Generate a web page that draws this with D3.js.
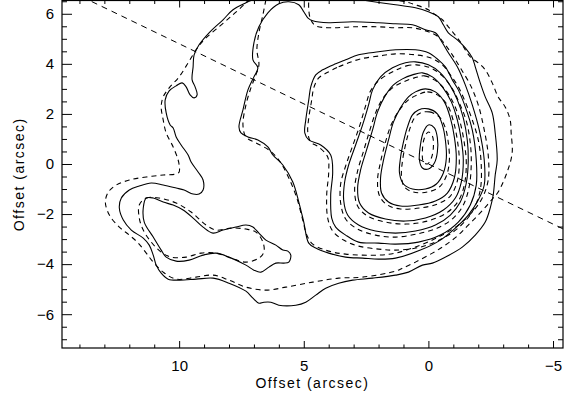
<!DOCTYPE html>
<html>
<head>
<meta charset="utf-8">
<script src="https://cdn.jsdelivr.net/npm/d3@7/dist/d3.min.js"></script>
<style>
body { margin: 0; background: #fff; }
svg { display: block; }
.axis text { font-family: "Liberation Sans", Arial, sans-serif; font-size: 15px; fill: #000; }
.axis line { stroke: #000; stroke-width: 1; }
.title { font-family: "Liberation Sans", Arial, sans-serif; font-size: 14px; letter-spacing: 1.5px; fill: #000; }
</style>
</head>
<body>
<svg id="chart" width="564" height="400"></svg>
<script>
// offsets in arcsec (x grows to the left)
var xMajorTicks = [10, 5, 0, -5];
var xMinorTicks = [14, 13, 12, 11, 9, 8, 7, 6, 4, 3, 2, 1, -1, -2, -3, -4];
var yMajorTicks = [-6, -4, -2, 0, 2, 4, 6];
var yMinorTicks = [-7, -6.5, -5.5, -5, -4.5, -3.5, -3, -2.5, -1.5, -1, -0.5,
                   0.5, 1, 1.5, 2.5, 3, 3.5, 4.5, 5, 5.5, 6.5];

// position angle cut
var cutLine = [[14.7, 7.06], [-5.5, -2.64]];

// lowest level, open at the top edge
var lev1Solid = [[2.72,6.56],[1.92,6.44],[1.32,6.36],[0.52,6.24],[0,6.08],[-0.4,5.88],[-0.6,5.56],
    [-0.8,5.24],[-1.16,4.96],[-1.48,4.64],[-1.76,4.24],[-1.88,3.88],[-2.08,3.24],[-2.28,2.68],
    [-2.56,2.04],[-2.68,1.24],[-2.76,0.16],[-2.68,-0.44],[-2.6,-1.24],[-2.48,-1.76],[-2.28,-2.32],
    [-1.88,-2.84],[-1.36,-3.32],[-0.68,-3.72],[-0.16,-3.96],[0.24,-4.04],[0.8,-4.32],[1.32,-4.44],
    [2.24,-4.56],[3.04,-4.64],[3.6,-4.76],[4.12,-4.96],[4.52,-5.24],[4.92,-5.52],[5.32,-5.64],
    [6.0,-5.64],[6.32,-5.52],[6.6,-5.52],[6.8,-5.56],[7.04,-5.36],[7.32,-5.08],[8.0,-4.76],
    [8.64,-4.56],[9.32,-4.6],[10.0,-4.64],[10.44,-4.6],[10.72,-4.36],[10.92,-4.04],[11.04,-3.64],
    [11.2,-3.24],[11.44,-2.96],[11.92,-2.64],[12.24,-2.24],[12.4,-1.76],[12.32,-1.36],[12.0,-1.04],
    [11.6,-0.88],[11.12,-0.76],[10.64,-0.84],[10.12,-0.96],[9.8,-1.04],[9.44,-1.2],[9.2,-1.2],
    [9.04,-1.04],[9.04,-0.64],[9.24,-0.32],[9.52,0.08],[9.64,0.36],[9.92,0.76],[10.12,1.08],
    [10.24,1.44],[10.36,1.56],[10.52,2.04],[10.56,2.56],[10.4,2.92],[10.12,3.12],[9.88,3.24],
    [9.72,3.08],[9.56,2.76],[9.4,2.64],[9.28,2.76],[9.36,3.08],[9.48,3.36],[9.44,3.88],[9.4,4.36],
    [9.2,4.76],[8.8,5.24],[8.24,5.76],[7.84,6.16],[7.32,6.44],[7.04,6.56]];
var lev1Dashed = [[1.52,6.56],[0.92,6.48],[0.52,6.36],[0,6.16],[-0.28,5.96],[-0.56,5.76],[-0.8,5.48],
    [-1.0,5.24],[-1.28,4.88],[-1.48,4.56],[-1.68,4.28],[-2.0,4.04],[-2.28,3.76],[-2.56,3.24],
    [-2.8,2.68],[-3.08,2.28],[-3.28,1.76],[-3.32,1.24],[-3.36,0.44],[-3.16,-0.32],[-2.8,-1.12],
    [-2.6,-1.36],[-2.36,-1.64],[-2.0,-2.04],[-1.6,-2.44],[-1.2,-2.84],[-0.68,-3.24],[-0.16,-3.56],
    [0.52,-3.92],[1.04,-4.16],[1.32,-4.28],[2.64,-4.52],[3.6,-4.56],[4.64,-4.72],[5.72,-4.92],
    [6.52,-5.04],[7.32,-4.92],[8.0,-4.64],[8.64,-4.44],[9.32,-4.52],[10.12,-4.6],[10.64,-4.32],
    [11.04,-3.92],[11.32,-3.56],[11.64,-3.16],[12.0,-2.84],[12.4,-2.52],[12.8,-2.04],[12.96,-1.52],
    [12.84,-1.12],[12.52,-0.84],[12.0,-0.64],[11.32,-0.52],[10.64,-0.44],[10.12,-0.4],[10.0,-0.32],
    [10.0,-0.04],[10.04,0.16],[10.24,0.68],[10.52,1.24],[10.64,1.76],[10.72,2.28],[10.64,2.68],
    [10.4,3.04],[10.0,3.48],[9.64,4.04],[9.32,4.56],[9.0,4.96],[8.4,5.48],[7.84,5.96],[7.4,6.36],
    [7.2,6.56]];

var lev2Solid = [[6.0,6.4],[5.6,6.48],[5.2,6.36],[5.0,6.08],[4.84,5.84],[4.64,5.72],[4.0,5.64],
    [3.04,5.68],[2.0,5.64],[1.32,5.6],[0.64,5.56],[0.12,5.36],[-0.28,5.24],[-0.56,4.84],[-0.8,4.44],
    [-1.16,3.88],[-1.48,3.16],[-1.76,2.36],[-2.04,1.36],[-2.24,0.16],[-2.24,-0.84],[-2.0,-1.44],
    [-1.6,-2.04],[-1.08,-2.56],[-0.48,-3.04],[0.32,-3.44],[1.32,-3.76],[2.0,-3.8],[2.64,-3.76],
    [3.32,-3.72],[4.0,-3.56],[4.52,-3.36],[4.8,-3.16],[5.0,-2.32],[5.2,-1.52],[5.44,-0.72],
    [5.84,-0.04],[6.24,0.36],[6.44,0.68],[6.84,0.96],[7.24,1.08],[7.52,1.24],[7.6,1.48],[7.44,2.16],
    [7.24,2.96],[7.0,3.48],[6.84,3.84],[7.04,4.16],[7.0,4.84],[6.8,5.48],[6.44,6.04]];
var lev2Dashed = [[6.52,6.56],[6.64,5.96],[6.8,5.24],[6.88,4.56],[6.8,3.96],[6.92,3.56],[7.12,3.04],
    [7.32,2.36],[7.44,1.56],[7.32,1.08],[6.92,0.84],[6.4,0.56],[6.0,0.16],[5.6,-0.56],[5.28,-1.36],
    [5.04,-2.24],[4.88,-2.84],[4.64,-3.2],[4.0,-3.48],[3.32,-3.6],[2.0,-3.64],[1.32,-3.56],
    [0.32,-3.24],[-0.48,-2.88],[-1.2,-2.44],[-1.76,-1.92],[-2.16,-1.36],[-2.4,-0.64],[-2.4,0.36],
    [-2.24,1.36],[-2.0,2.36],[-1.68,3.16],[-1.28,3.84],[-0.96,4.36],[-0.68,4.76],[-0.4,5.08],
    [0,5.28],[0.64,5.44],[1.32,5.44],[2.0,5.48],[3.04,5.48],[3.92,5.44],[4.52,5.52],[4.72,5.76],
    [4.8,6.16],[4.8,6.56]];

// separate loop in the south-east
var loopSolid = [[11.32,-1.36],[11.04,-1.36],[10.64,-1.52],[10.24,-1.64],[9.84,-1.84],[9.44,-2.16],
    [9.04,-2.52],[8.64,-2.76],[8.24,-2.64],[7.72,-2.52],[7.32,-2.44],[7.04,-2.52],[6.8,-2.76],
    [6.52,-3.04],[6.12,-3.24],[5.84,-3.44],[5.64,-3.48],[5.52,-3.64],[5.6,-3.92],[5.8,-3.96],
    [6.12,-3.96],[6.4,-4.12],[6.72,-4.32],[7.0,-4.24],[7.32,-4.04],[8.0,-3.72],[8.52,-3.56],
    [9.04,-3.64],[9.6,-3.84],[10.12,-3.88],[10.52,-3.72],[10.72,-3.44],[11.04,-2.92],[11.4,-2.32],
    [11.44,-1.76]];
var loopDashed = [[11.6,-1.64],[11.32,-1.36],[10.8,-1.36],[10.12,-1.56],[9.52,-1.92],[8.92,-2.44],
    [8.52,-2.64],[7.92,-2.56],[7.32,-2.6],[6.92,-2.72],[6.64,-3.12],[6.6,-3.52],[6.8,-3.76],
    [7.32,-3.92],[7.92,-3.76],[8.52,-3.56],[9.12,-3.56],[9.72,-3.72],[10.32,-3.72],[10.72,-3.52],
    [11.12,-3.12],[11.44,-2.64],[11.6,-2.16]];

// nested levels round the peak
var lev3Solid = [[4.24,3.76],[3.72,4.0],[3.32,4.16],[2.8,4.36],[2.0,4.48],[1.32,4.56],[0.52,4.56],
    [0,4.44],[-0.4,4.16],[-0.68,3.88],[-0.96,3.36],[-1.2,2.96],[-1.48,2.28],[-1.76,1.36],
    [-1.92,0.16],[-1.92,-0.84],[-1.68,-1.64],[-1.2,-2.32],[-0.48,-2.84],[0.4,-3.12],[1.32,-3.2],
    [2.0,-3.16],[2.8,-3.12],[3.32,-2.84],[3.72,-2.52],[3.88,-2.16],[3.92,-1.24],[3.84,-0.32],
    [3.92,0.36],[4.32,0.76],[4.8,0.96],[4.96,1.24],[4.92,1.76],[4.8,2.56],[4.72,3.08],[4.52,3.56]];
var lev3Dashed = [[4.08,3.64],[3.6,3.88],[3.2,4.04],[2.72,4.2],[1.92,4.32],[1.32,4.4],[0.52,4.36],
    [-0.08,4.24],[-0.56,3.96],[-0.88,3.56],[-1.2,3.08],[-1.48,2.48],[-1.76,1.76],[-2.0,0.96],
    [-2.12,-0.04],[-2.08,-1.04],[-1.8,-1.84],[-1.28,-2.48],[-0.6,-2.96],[0.32,-3.32],[1.32,-3.44],
    [2.0,-3.4],[2.8,-3.28],[3.4,-3.04],[3.84,-2.68],[4.04,-2.16],[4.08,-1.24],[4.0,-0.32],
    [4.04,0.28],[4.4,0.68],[4.72,0.88],[4.84,1.28],[4.8,1.84],[4.68,2.56],[4.6,3.04],[4.4,3.44]];
var lev4Solid = [[1.44,3.84],[0.92,4.04],[0.52,4.08],[0,3.96],[-0.48,3.64],[-0.88,3.12],[-1.16,2.56],
    [-1.4,1.84],[-1.56,0.96],[-1.6,0.16],[-1.52,-0.76],[-1.28,-1.52],[-0.88,-2.04],[-0.28,-2.44],
    [0.52,-2.68],[1.32,-2.76],[2.12,-2.68],[2.8,-2.44],[3.24,-2.04],[3.4,-1.44],[3.36,-0.72],
    [3.2,-0.04],[2.92,0.76],[2.64,1.56],[2.4,2.36],[2.24,2.96],[1.92,3.48]];
var lev4Dashed = [[1.36,3.72],[0.88,3.92],[0.48,3.96],[-0.08,3.84],[-0.56,3.52],[-0.96,3.0],
    [-1.24,2.44],[-1.52,1.72],[-1.68,0.84],[-1.72,0.04],[-1.64,-0.88],[-1.4,-1.64],[-1.0,-2.16],
    [-0.36,-2.56],[0.48,-2.8],[1.32,-2.92],[2.12,-2.84],[2.84,-2.6],[3.32,-2.2],[3.52,-1.56],
    [3.52,-0.8],[3.32,-0.08],[3.04,0.72],[2.76,1.52],[2.52,2.32],[2.32,2.92],[1.96,3.36]];
var lev5Solid = [[0.64,3.56],[0.24,3.64],[-0.16,3.48],[-0.56,3.08],[-0.92,2.48],[-1.16,1.76],
    [-1.32,0.96],[-1.4,0.16],[-1.32,-0.72],[-1.08,-1.36],[-0.6,-1.84],[0.12,-2.16],[0.92,-2.28],
    [1.72,-2.2],[2.4,-1.96],[2.76,-1.56],[2.84,-0.96],[2.72,-0.24],[2.48,0.56],[2.24,1.36],
    [2.04,2.08],[1.76,2.68],[1.4,3.16],[1.04,3.4]];
var lev5Dashed = [[0.56,3.44],[0.16,3.52],[-0.24,3.36],[-0.68,2.96],[-1.04,2.36],[-1.28,1.64],
    [-1.44,0.84],[-1.52,0.04],[-1.44,-0.84],[-1.2,-1.48],[-0.72,-1.96],[0.04,-2.28],[0.88,-2.4],
    [1.72,-2.32],[2.44,-2.08],[2.84,-1.68],[2.96,-1.04],[2.84,-0.28],[2.6,0.52],[2.36,1.32],
    [2.12,2.04],[1.84,2.6],[1.44,3.04],[1.0,3.28]];
var lev6Solid = [[0.52,2.88],[0.12,3.0],[-0.28,2.88],[-0.64,2.48],[-0.88,1.84],[-1.04,1.08],
    [-1.12,0.24],[-1.04,-0.56],[-0.76,-1.16],[-0.28,-1.48],[0.4,-1.64],[1.12,-1.68],[1.6,-1.52],
    [1.88,-1.16],[1.92,-0.56],[1.8,0.16],[1.6,0.96],[1.4,1.68],[1.12,2.24],[0.8,2.68]];
var lev6Dashed = [[0.44,2.76],[0.04,2.88],[-0.36,2.76],[-0.76,2.36],[-1.0,1.72],[-1.16,0.96],
    [-1.24,0.12],[-1.16,-0.68],[-0.88,-1.28],[-0.36,-1.6],[0.36,-1.76],[1.12,-1.8],[1.64,-1.64],
    [1.96,-1.28],[2.04,-0.64],[1.92,0.08],[1.72,0.88],[1.48,1.6],[1.16,2.16],[0.8,2.56]];
var lev7Solid = [[0.4,2.16],[0,2.2],[-0.36,2.0],[-0.56,1.56],[-0.68,0.96],[-0.72,0.24],[-0.6,-0.36],
    [-0.32,-0.8],[0.12,-1.0],[0.64,-1.0],[1.0,-0.8],[1.16,-0.36],[1.12,0.24],[1.0,0.88],[0.84,1.48],
    [0.64,1.96]];
var lev7Dashed = [[0.32,2.04],[-0.04,2.08],[-0.44,1.88],[-0.68,1.44],[-0.8,0.84],[-0.84,0.12],
    [-0.72,-0.48],[-0.44,-0.92],[0.04,-1.12],[0.6,-1.12],[0.96,-0.92],[1.08,-0.48],[1.04,0.12],
    [0.92,0.76],[0.76,1.36],[0.56,1.84]];
var lev8Solid = [[0,1.56],[-0.24,1.44],[-0.36,1.04],[-0.36,0.48],[-0.24,0.04],[0,-0.2],[0.24,-0.16],
    [0.36,0.16],[0.32,0.76],[0.2,1.28]];
var lev8Dashed = [[0,1.28],[-0.16,1.12],[-0.2,0.68],[-0.12,0.24],[0.04,0.0],[0.2,0.08],[0.24,0.56],
    [0.16,1.04]];

var contours = [
    {pts: lev1Solid, closed: false, dashed: false},
    {pts: lev1Dashed, closed: false, dashed: true},
    {pts: lev2Solid, closed: true, dashed: false},
    {pts: lev2Dashed, closed: false, dashed: true},
    {pts: loopSolid, closed: true, dashed: false},
    {pts: loopDashed, closed: true, dashed: true},
    {pts: lev3Solid, closed: true, dashed: false},
    {pts: lev3Dashed, closed: true, dashed: true},
    {pts: lev4Solid, closed: true, dashed: false},
    {pts: lev4Dashed, closed: true, dashed: true},
    {pts: lev5Solid, closed: true, dashed: false},
    {pts: lev5Dashed, closed: true, dashed: true},
    {pts: lev6Solid, closed: true, dashed: false},
    {pts: lev6Dashed, closed: true, dashed: true},
    {pts: lev7Solid, closed: true, dashed: false},
    {pts: lev7Dashed, closed: true, dashed: true},
    {pts: lev8Solid, closed: true, dashed: false},
    {pts: lev8Dashed, closed: true, dashed: true}
];

var plot = {left: 62, right: 563, top: 0.5, bottom: 348};

var x = d3.scaleLinear().domain([14.7, -5.4]).range([plot.left, plot.right]);
var y = d3.scaleLinear().domain([-7.35, 6.53]).range([plot.bottom, plot.top]);

var svg = d3.select('#chart');

svg.append('clipPath')
    .attr('id', 'plot_clip')
    .append('rect')
    .attr('x', plot.left)
    .attr('y', plot.top)
    .attr('width', plot.right - plot.left)
    .attr('height', plot.bottom - plot.top);

var layer = svg.append('g').attr('clip-path', 'url(#plot_clip)');

var openLine = d3.line()
    .x(function(d) { return x(d[0]); })
    .y(function(d) { return y(d[1]); })
    .curve(d3.curveCatmullRom.alpha(0.5));

var closedLine = d3.line()
    .x(function(d) { return x(d[0]); })
    .y(function(d) { return y(d[1]); })
    .curve(d3.curveCatmullRomClosed.alpha(0.5));

layer.selectAll('path.contour')
    .data(contours)
    .enter()
    .append('path')
    .attr('class', 'contour')
    .attr('d', function(d) { return d.closed ? closedLine(d.pts) : openLine(d.pts); })
    .attr('fill', 'none')
    .attr('stroke', '#000')
    .attr('stroke-width', 1.1)
    .attr('stroke-dasharray', function(d) { return d.dashed ? '5,4' : null; });

layer.append('path')
    .attr('d', d3.line()
        .x(function(d) { return x(d[0]); })
        .y(function(d) { return y(d[1]); })(cutLine))
    .attr('fill', 'none')
    .attr('stroke', '#000')
    .attr('stroke-width', 1)
    .attr('stroke-dasharray', '6,5');

// axes, ticks pointing inward
function noLabel() { return ''; }

svg.append('g').attr('class', 'axis')
    .attr('transform', 'translate(0,' + plot.bottom + ')')
    .call(d3.axisBottom(x).tickValues(xMajorTicks).tickSize(-7).tickPadding(12));
svg.append('g').attr('class', 'axis')
    .attr('transform', 'translate(0,' + plot.bottom + ')')
    .call(d3.axisBottom(x).tickValues(xMinorTicks).tickSize(-3.5).tickFormat(noLabel));
svg.append('g').attr('class', 'axis')
    .attr('transform', 'translate(0,' + plot.top + ')')
    .call(d3.axisTop(x).tickValues(xMajorTicks).tickSize(-7).tickFormat(noLabel));
svg.append('g').attr('class', 'axis')
    .attr('transform', 'translate(0,' + plot.top + ')')
    .call(d3.axisTop(x).tickValues(xMinorTicks).tickSize(-3.5).tickFormat(noLabel));

svg.append('g').attr('class', 'axis')
    .attr('transform', 'translate(' + plot.left + ',0)')
    .call(d3.axisLeft(y).tickValues(yMajorTicks).tickSize(-10).tickPadding(8));
svg.append('g').attr('class', 'axis')
    .attr('transform', 'translate(' + plot.left + ',0)')
    .call(d3.axisLeft(y).tickValues(yMinorTicks).tickSize(-5).tickFormat(noLabel));
svg.append('g').attr('class', 'axis')
    .attr('transform', 'translate(' + plot.right + ',0)')
    .call(d3.axisRight(y).tickValues(yMajorTicks).tickSize(-10).tickFormat(noLabel));
svg.append('g').attr('class', 'axis')
    .attr('transform', 'translate(' + plot.right + ',0)')
    .call(d3.axisRight(y).tickValues(yMinorTicks).tickSize(-5).tickFormat(noLabel));

svg.selectAll('.axis .domain').remove();

svg.append('rect')
    .attr('x', plot.left)
    .attr('y', plot.top)
    .attr('width', plot.right - plot.left)
    .attr('height', plot.bottom - plot.top)
    .attr('fill', 'none')
    .attr('stroke', '#000')
    .attr('stroke-width', 1.2);

svg.append('text')
    .attr('class', 'title')
    .attr('x', (plot.left + plot.right) / 2)
    .attr('y', 388)
    .attr('text-anchor', 'middle')
    .text('Offset (arcsec)');

svg.append('text')
    .attr('class', 'title')
    .attr('transform', 'translate(24,' + ((plot.top + plot.bottom) / 2) + ') rotate(-90)')
    .attr('text-anchor', 'middle')
    .text('Offset (arcsec)');
</script>
</body>
</html>
